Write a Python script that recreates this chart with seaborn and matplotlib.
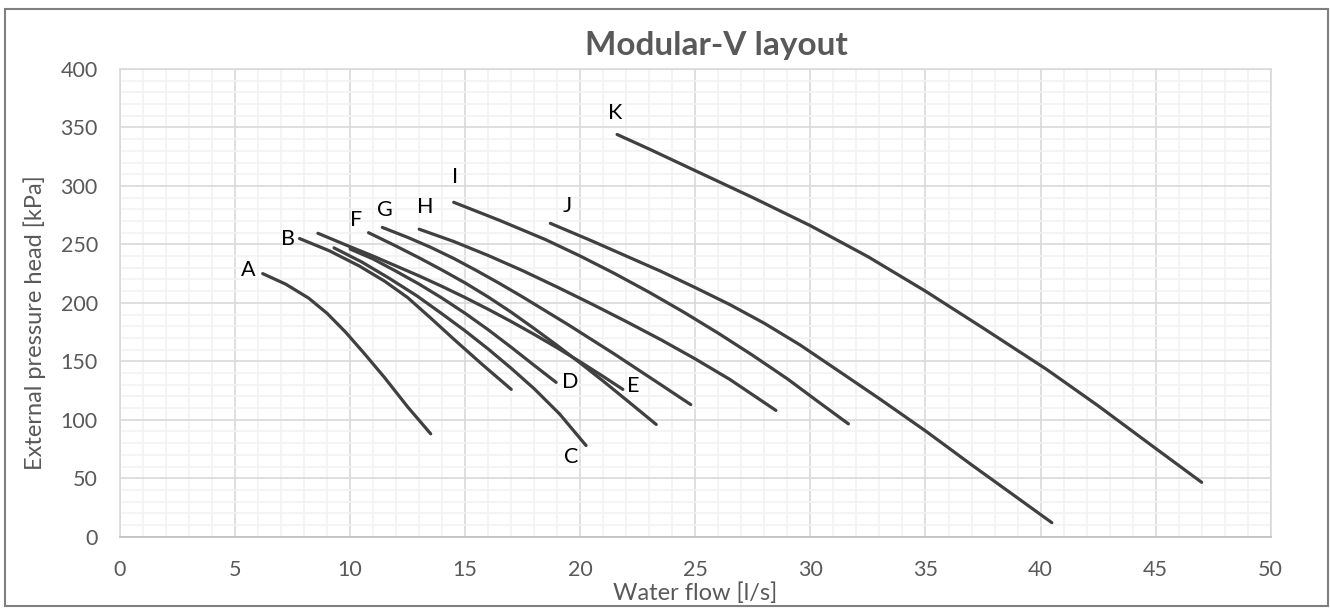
import pandas as pd
import numpy as np
import seaborn as sns
import matplotlib.pyplot as plt
from matplotlib.ticker import MultipleLocator
from matplotlib.patches import Rectangle

# curve data: flow [l/s] and head [kPa]
flow_A = [6.2, 7.2, 8.2, 9.0, 9.8, 10.6, 11.5, 12.5, 13.5]
head_A = [225, 216, 204, 191, 175, 157, 136, 111, 88]

flow_B = [7.8, 9.1, 10.4, 11.5, 12.5, 13.5, 14.5, 15.7, 17.0]
head_B = [255, 244.5, 231.5, 218.5, 204.5, 187, 169, 148, 126]

flow_C = [9.3, 10.5, 11.7, 12.9, 14.0, 15.0, 16.0, 17.0, 18.0, 19.1, 20.25]
head_C = [247, 235, 221, 206, 190.5, 176, 160.5, 144, 126.5, 105, 78]

flow_D = [10.0, 11.0, 12.0, 13.0, 14.0, 15.0, 16.0, 17.0, 18.0, 18.95]
head_D = [246, 237.5, 227, 216, 204, 191, 177, 162, 146.5, 132]

flow_E = [8.6, 10.0, 11.0, 12.0, 13.0, 14.0, 15.0, 16.0, 17.0, 18.0, 19.0, 20.0, 21.0, 21.85]
head_E = [259.5, 248, 240, 231.5, 223, 214, 204.5, 194.5, 184, 173, 161.5, 149.5, 137, 126]

flow_F = [10.8, 12.0, 13.0, 14.0, 15.0, 16.0, 17.0, 18.0, 19.0, 20.0, 21.0, 22.0, 23.3]
head_F = [260, 248.5, 238.5, 228, 217, 205, 192, 178, 163.5, 148.5, 133, 117, 96]

flow_G = [11.4, 12.5, 13.5, 14.5, 15.5, 16.5, 17.5, 18.5, 19.5, 20.5, 21.5, 22.5, 23.5, 24.8]
head_G = [264.5, 256, 247.5, 238, 227.5, 216.5, 205, 193, 181, 168.5, 156, 143, 130, 113]

flow_H = [13.0, 14.5, 16.0, 17.5, 19.0, 20.5, 22.0, 23.5, 25.0, 26.5, 28.5]
head_H = [263, 252.5, 240.5, 227.5, 213.5, 199, 184, 168.5, 152, 134.5, 108]

flow_I = [14.5, 16.5, 18.5, 20.0, 21.5, 23.0, 24.5, 26.0, 27.5, 29.0, 30.3, 31.65]
head_I = [286, 270.5, 254, 240, 225, 209, 192, 174, 155, 135, 116, 96.5]

flow_J = [18.7, 20.5, 22.0, 23.5, 25.0, 26.5, 28.0, 29.55, 31.43, 33.0, 35.0, 37.0, 38.8, 40.49]
head_J = [268, 253, 240, 227, 213, 198.5, 182.5, 164, 139, 118, 90.5, 61.5, 36, 12]

flow_K = [21.6, 23.0, 25.0, 27.5, 30.0, 32.5, 35.0, 37.5, 40.27, 42.5, 45.0, 47.0]
head_K = [344, 331.5, 313, 290, 266, 239.5, 210, 178.5, 143, 112, 75.5, 46.5]

pumps = ["A", "B", "C", "D", "E", "F", "G", "H", "I", "J", "K"]
flows = [flow_A, flow_B, flow_C, flow_D, flow_E, flow_F, flow_G, flow_H, flow_I, flow_J, flow_K]
heads = [head_A, head_B, head_C, head_D, head_E, head_F, head_G, head_H, head_I, head_J, head_K]

# labels sit at the start of most curves, at the end for C, D, E
label_at_end = ["C", "D", "E"]
label_offset = {"A": (-14, 4), "B": (-12, 0), "C": (-15, -12), "D": (14, 0), "E": (10, 3),
                "F": (-12, 13), "G": (3, 17), "H": (6, 22), "I": (1, 25), "J": (17, 17),
                "K": (-2, 21)}

rows = []
for p, f, h in zip(pumps, flows, heads):
    for x, y in zip(f, h):
        rows.append({"pump": p, "flow": x, "head": y})
df = pd.DataFrame(rows)

sns.set_theme(style="white")
plt.rcParams['font.family'] = ['Lato', 'DejaVu Sans']

fig = plt.figure(figsize=(13.3, 6.1), dpi=100)
ax = fig.add_axes([120/1330, 1-536.7/610, 1150.7/1330, 467.7/610])

sns.lineplot(data=df, x="flow", y="head", units="pump", estimator=None, sort=False,
             color="#404040", linewidth=2.3, ax=ax, zorder=3)
for ln in ax.lines:
    ln.set_solid_joinstyle("round")
    ln.set_solid_capstyle("round")

for p, f, h in zip(pumps, flows, heads):
    if p in label_at_end:
        xy = (f[-1], h[-1])
    else:
        xy = (f[0], h[0])
    ax.annotate(p, xy=xy, xytext=label_offset[p], textcoords="offset pixels",
                ha="center", va="center", fontsize=15.5, color="black", zorder=4)

ax.set_xlim(0, 50)
ax.set_ylim(0, 400)
ax.xaxis.set_major_locator(MultipleLocator(5))
ax.xaxis.set_minor_locator(MultipleLocator(1))
ax.yaxis.set_major_locator(MultipleLocator(50))
ax.yaxis.set_minor_locator(MultipleLocator(10))
ax.grid(which="major", color="#d9d9d9", linewidth=1.2, zorder=1)
ax.grid(which="minor", color="#f2f2f2", linewidth=1.2, zorder=0)
ax.set_axisbelow(True)
ax.tick_params(which="both", length=0)
ax.tick_params(axis="x", pad=17, labelsize=15.5, colors="#595959")
ax.tick_params(axis="y", pad=16, labelsize=15.5, colors="#595959")
for s in ax.spines.values():
    s.set_color("#d9d9d9")
    s.set_linewidth(1.2)
ax.spines["bottom"].set_color("#bfbfbf")
ax.set_xlabel("")
ax.set_ylabel("")

fig.text(695/1330, 1-593/610, "Water flow [l/s]", ha="center", va="center",
         fontsize=17, color="#595959")
fig.text(35/1330, 1-323/610, "External pressure head [kPa]", ha="center", va="center",
         rotation=90, fontsize=17, color="#595959")
fig.text(716/1330, 1-45/610, "Modular-V layout", ha="center", va="center",
         fontsize=24, fontweight="bold", color="#595959")

fig.patches.append(Rectangle((4.5/1330, 1-606/610), 1323/1330, 597.5/610,
                             transform=fig.transFigure, fill=False,
                             edgecolor="#7f7f7f", linewidth=1.5))

fig.savefig("out.png", dpi=100)
